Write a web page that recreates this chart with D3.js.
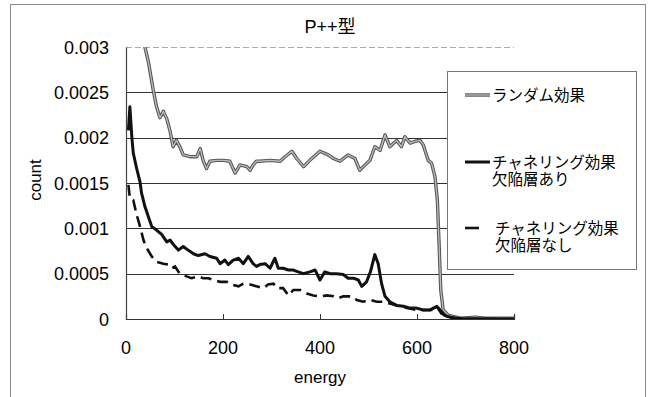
<!DOCTYPE html>
<html>
<head>
<meta charset="utf-8">
<script src="https://cdn.jsdelivr.net/npm/d3@7"></script>
<style>
  body { margin: 0; background: #fff; }
  text { font-family: "Liberation Sans", Arial, "Noto Sans CJK JP", sans-serif; fill: #000; }
  .jp { font-family: "Noto Sans CJK JP", "Liberation Sans", sans-serif; }
</style>
</head>
<body>
<div class="vis-holder"></div>
<script>
// chart text
var title = "P++型";
var xTitle = "energy";
var yTitle = "count";
var xTicks = [0, 200, 400, 600, 800];
var yTicks = [0, 0.0005, 0.001, 0.0015, 0.002, 0.0025, 0.003];
var yTickLabels = ["0", "0.0005", "0.001", "0.0015", "0.002", "0.0025", "0.003"];

// series names (legend)
var seriesNames = [["ランダム効果"], ["チャネリング効果", "欠陥層あり"], ["チャネリング効果", "欠陥層なし"]];

// ランダム効果 (gray)
var randomE = [30, 39, 46, 56, 63, 70, 77, 84, 91, 97, 104, 111, 118, 132, 146, 153, 159, 166, 173, 187, 201, 214, 225, 235, 249, 256, 262, 269, 276, 297, 318, 328, 342, 352, 366, 379, 400, 417, 428, 441, 458, 472, 482, 493, 503, 513, 524, 534, 544, 558, 568, 575, 586, 596, 606, 613, 623, 630, 637, 642, 646, 649, 654, 665, 690, 720, 740, 770, 800];
var randomV = [0.0032, 0.00300, 0.00284, 0.00253, 0.00234, 0.00222, 0.00229, 0.00221, 0.00207, 0.00190, 0.00197, 0.00190, 0.00181, 0.00179, 0.00179, 0.00188, 0.00175, 0.00166, 0.00174, 0.00175, 0.00175, 0.00174, 0.00161, 0.00170, 0.00168, 0.00164, 0.00170, 0.00174, 0.00174, 0.00175, 0.00174, 0.00179, 0.00185, 0.00177, 0.00168, 0.00175, 0.00185, 0.00181, 0.00177, 0.00174, 0.00181, 0.00177, 0.00164, 0.00170, 0.00175, 0.00190, 0.00186, 0.00203, 0.00190, 0.00197, 0.00190, 0.00201, 0.00194, 0.00196, 0.00197, 0.00192, 0.00175, 0.00172, 0.00157, 0.00131, 0.00076, 0.00032, 0.00010, 0.00004, 0.00001, 0.00002, 0.00001, 0.00001, 0.00001];

// チャネリング効果 欠陥層あり (solid black)
var withDefE = [5, 8, 12, 15, 22, 29, 32, 39, 46, 53, 63, 74, 84, 91, 98, 108, 118, 128, 139, 149, 163, 173, 187, 194, 204, 211, 221, 232, 242, 252, 262, 269, 276, 287, 297, 307, 314, 324, 335, 345, 355, 366, 379, 390, 400, 410, 421, 434, 448, 458, 469, 479, 486, 496, 504, 513, 520, 527, 534, 544, 558, 572, 586, 599, 613, 627, 641, 651, 661, 680, 800];
var withDefV = [0.00208, 0.00234, 0.00201, 0.00183, 0.00166, 0.00151, 0.00139, 0.00124, 0.00113, 0.00102, 0.00098, 0.00093, 0.00085, 0.00087, 0.00082, 0.00076, 0.00080, 0.00076, 0.00072, 0.00070, 0.00072, 0.00069, 0.00067, 0.00061, 0.00065, 0.00060, 0.00065, 0.00067, 0.00061, 0.00069, 0.00061, 0.00058, 0.00060, 0.00061, 0.00056, 0.00067, 0.00056, 0.00056, 0.00054, 0.00054, 0.00052, 0.00050, 0.00052, 0.00054, 0.00043, 0.00052, 0.00050, 0.00050, 0.00049, 0.00045, 0.00045, 0.00043, 0.00036, 0.00041, 0.00052, 0.00071, 0.00061, 0.00039, 0.00025, 0.00019, 0.00015, 0.00014, 0.00012, 0.00012, 0.00010, 0.00010, 0.00014, 0.00006, 0.00003, 0.000005, 0];

// チャネリング効果 欠陥層なし (dashed black)
var noDefE = [5, 8, 15, 22, 29, 36, 43, 53, 63, 77, 87, 94, 101, 111, 125, 135, 149, 159, 170, 180, 194, 208, 218, 232, 242, 256, 269, 283, 293, 304, 311, 324, 335, 345, 359, 373, 386, 400, 414, 428, 438, 448, 465, 476, 489, 503, 517, 530, 544, 558, 572, 600, 630, 645, 660, 700, 800];
var noDefV = [0.00148, 0.00133, 0.00131, 0.00115, 0.00102, 0.00087, 0.00078, 0.00069, 0.00063, 0.00061, 0.00060, 0.00056, 0.00058, 0.00050, 0.00047, 0.00045, 0.00047, 0.00045, 0.00045, 0.00043, 0.00041, 0.00041, 0.00038, 0.00036, 0.00039, 0.00038, 0.00036, 0.00034, 0.00038, 0.00039, 0.00034, 0.00034, 0.00026, 0.00032, 0.00032, 0.00028, 0.00026, 0.00025, 0.00026, 0.00025, 0.00023, 0.00025, 0.00025, 0.00021, 0.00019, 0.00021, 0.00019, 0.00019, 0.00017, 0.00015, 0.00013, 0.00010, 0.00010, 0.00012, 0.00002, 0, 0];

function toPoints(es, vs) {
  return es.map(function(e, i) { return { e: e, v: vs[i] }; });
}

var width = 651;
var height = 397;
// plot area
var margin = { top: 47, bottom: 78, left: 126, right: 137 };

var svg = d3.select(".vis-holder")
            .append("svg")
            .attr("width", width)
            .attr("height", height);

// outer chart frame
svg.append("rect")
   .attr("x", 10.5).attr("y", 4.5)
   .attr("width", 635).attr("height", 400)
   .attr("fill", "none")
   .attr("stroke", "#8a8a8a")
   .attr("stroke-width", 1);

var xScale = d3.scaleLinear()
               .domain([0, 800])
               .range([margin.left, width - margin.right]);

var yScale = d3.scaleLinear()
               .domain([0, 0.003])
               .range([height - margin.bottom, margin.top]);

// horizontal gridlines
svg.append("g")
   .selectAll("line")
   .data(yTicks.slice(1))
   .enter()
   .append("line")
   .attr("x1", margin.left)
   .attr("x2", width - margin.right)
   .attr("y1", function(d) { return Math.round(yScale(d)) + 0.5; })
   .attr("y2", function(d) { return Math.round(yScale(d)) + 0.5; })
   .attr("stroke", function(d) { return d === 0.003 ? "#aaa" : "#333"; })
   .attr("stroke-dasharray", function(d) { return d === 0.003 ? "6,3" : null; })
   .attr("stroke-width", 1);

// clip to plot area
svg.append("clipPath").attr("id", "plotclip")
   .append("rect")
   .attr("x", margin.left).attr("y", margin.top)
   .attr("width", width - margin.right - margin.left)
   .attr("height", height - margin.bottom - margin.top);

var line = d3.line()
             .x(function(d) { return xScale(d.e); })
             .y(function(d) { return yScale(d.v); });

var plot = svg.append("g").attr("clip-path", "url(#plotclip)");

// gray random line: dark outline with light core
plot.append("path")
    .attr("d", line(toPoints(randomE, randomV)))
    .attr("fill", "none")
    .attr("stroke", "#555")
    .attr("stroke-width", 3.4)
    .attr("stroke-linejoin", "round");
plot.append("path")
    .attr("d", line(toPoints(randomE, randomV)))
    .attr("fill", "none")
    .attr("stroke", "#bdbdbd")
    .attr("stroke-width", 1.3)
    .attr("stroke-linejoin", "round");

// dashed: no defect layer
plot.append("path")
    .attr("d", line(toPoints(noDefE, noDefV)))
    .attr("fill", "none")
    .attr("stroke", "#111")
    .attr("stroke-width", 2.6)
    .attr("stroke-dasharray", "11,6");

// solid: with defect layer
plot.append("path")
    .attr("d", line(toPoints(withDefE, withDefV)))
    .attr("fill", "none")
    .attr("stroke", "#111")
    .attr("stroke-width", 3)
    .attr("stroke-linejoin", "round");

// x axis
var xAxis = svg.append("g")
               .attr("transform", "translate(0," + (height - margin.bottom) + ")")
               .call(d3.axisBottom(xScale).tickValues(xTicks).tickSize(-5).tickFormat(""));
xAxis.select(".domain").attr("stroke", "#333").attr("stroke-width", 1.2);
xAxis.selectAll(".tick line").attr("stroke", "#333");

svg.append("g")
   .selectAll("text")
   .data(xTicks)
   .enter()
   .append("text")
   .attr("x", function(d) { return xScale(d); })
   .attr("y", 354)
   .attr("text-anchor", "middle")
   .style("font-size", "18px")
   .text(function(d) { return d; });

// y axis
var yAxis = svg.append("g")
               .attr("transform", "translate(" + margin.left + ",0)")
               .call(d3.axisLeft(yScale).tickValues(yTicks).tickSize(0).tickFormat(""));
yAxis.select(".domain").attr("stroke", "#444").attr("stroke-width", 1.2);

svg.append("g")
   .selectAll("text")
   .data(yTicks)
   .enter()
   .append("text")
   .attr("x", 109)
   .attr("y", function(d) { return yScale(d) + 6.5; })
   .attr("text-anchor", "end")
   .style("font-size", "18px")
   .text(function(d, i) { return yTickLabels[i]; });

// axis titles
svg.append("text")
   .attr("text-anchor", "middle")
   .attr("transform", "translate(320,383)")
   .style("font-size", "17px")
   .text(xTitle);

svg.append("text")
   .attr("text-anchor", "middle")
   .attr("transform", "translate(41,180)rotate(-90)")
   .style("font-size", "17px")
   .text(yTitle);

// chart title
svg.append("text")
   .attr("text-anchor", "middle")
   .attr("x", 330)
   .attr("y", 33)
   .style("font-size", "18px")
   .text(title);

// legend
var legend = svg.append("g");
legend.append("rect")
      .attr("x", 447.5).attr("y", 71.5)
      .attr("width", 189).attr("height", 198)
      .attr("fill", "#fff")
      .attr("stroke", "#777")
      .attr("stroke-width", 1);

var legendY = [95, 162, 228];
// random sample
legend.append("line").attr("x1", 465).attr("x2", 490).attr("y1", legendY[0]).attr("y2", legendY[0])
      .attr("stroke", "#555").attr("stroke-width", 3.4);
legend.append("line").attr("x1", 465).attr("x2", 490).attr("y1", legendY[0]).attr("y2", legendY[0])
      .attr("stroke", "#bdbdbd").attr("stroke-width", 1.3);
// solid sample
legend.append("line").attr("x1", 465).attr("x2", 490).attr("y1", legendY[1]).attr("y2", legendY[1])
      .attr("stroke", "#111").attr("stroke-width", 3);
// dashed sample
legend.append("line").attr("x1", 465).attr("x2", 479).attr("y1", legendY[2]).attr("y2", legendY[2])
      .attr("stroke", "#111").attr("stroke-width", 2.6);

var legendX = [492, 492, 495];
seriesNames.forEach(function(lines, i) {
  lines.forEach(function(s, j) {
    legend.append("text")
          .attr("class", "jp")
          .attr("x", legendX[i])
          .attr("y", legendY[i] + 6 + j * 17)
          .style("font-size", "15.5px")
          .text(s);
  });
});
</script>
</body>
</html>
